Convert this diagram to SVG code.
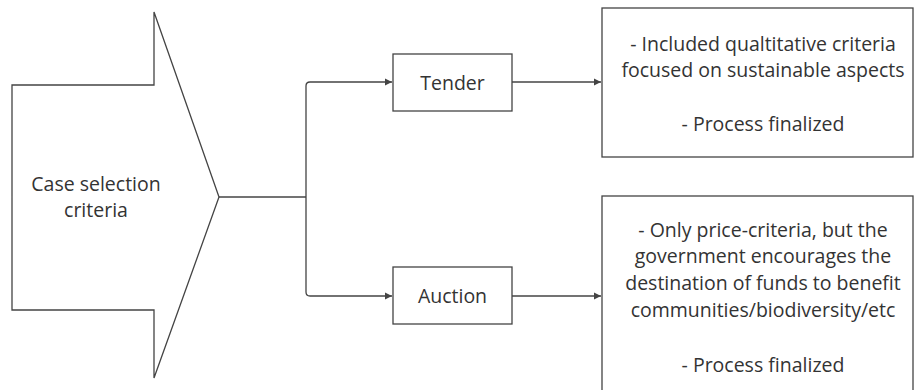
<svg xmlns="http://www.w3.org/2000/svg" width="915" height="390" viewBox="0 0 915 390">
<style>
.s{fill:#fff;stroke:#444;stroke-width:1.3}
.c{fill:none;stroke:#444;stroke-width:1.3}
text{font-family:"Open Sans","Noto Sans",sans-serif;font-size:19.5px;fill:#333;text-anchor:middle}
</style>
<defs>
<marker id="ah" markerWidth="8" markerHeight="8" refX="7" refY="4" orient="auto" markerUnits="userSpaceOnUse">
<path d="M0,0.5 L7,4 L0,7.5 Z" fill="#444"/>
</marker>
</defs>
<g id="case-selection">
<path class="s" d="M12,85 H154 V12 L219,197 L154,378 V310 H12 Z"/>
<text x="96" y="191">Case selection</text>
<text x="96" y="217">criteria</text>
</g>
<g id="tender">
<rect class="s" x="393" y="54" width="119" height="57"/>
<text x="452.5" y="90">Tender</text>
</g>
<g id="auction">
<rect class="s" x="393" y="267" width="119" height="57"/>
<text x="452.5" y="303">Auction</text>
</g>
<g id="tender-result">
<rect class="s" x="602" y="8" width="311" height="149"/>
<text x="763" y="51">- Included qualtitative criteria</text>
<text x="763" y="77">focused on sustainable aspects</text>
<text x="763" y="131">- Process finalized</text>
</g>
<g id="auction-result">
<rect class="s" x="602" y="196" width="311" height="200"/>
<text x="763" y="237">- Only price-criteria, but the</text>
<text x="763" y="263">government encourages the</text>
<text x="763" y="290">destination of funds to benefit</text>
<text x="763" y="317">communities/biodiversity/etc</text>
<text x="763" y="372">- Process finalized</text>
</g>
<g id="connectors">
<path class="c" d="M219,197 H306" />
<path class="c" d="M306,197 V86 Q306,82 310,82 H392" marker-end="url(#ah)"/>
<path class="c" d="M306,197 V292 Q306,296 310,296 H392" marker-end="url(#ah)"/>
<path class="c" d="M512,82 H601" marker-end="url(#ah)"/>
<path class="c" d="M512,296 H601" marker-end="url(#ah)"/>
</g>
</svg>
